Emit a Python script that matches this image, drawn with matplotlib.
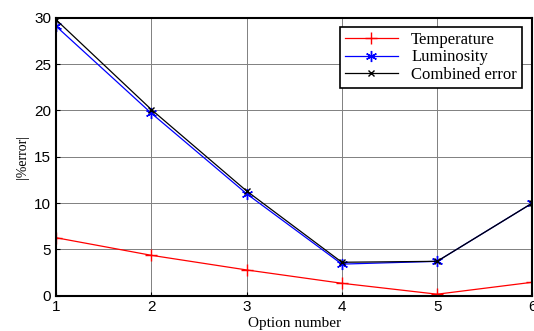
import matplotlib
matplotlib.use("Agg")
from matplotlib import pyplot as plt

options = [1, 2, 3, 4, 5, 6]
temperature = [6.25, 4.35, 2.77, 1.33, 0.15, 1.44]
luminosity = [29.1, 19.7, 11.0, 3.4, 3.7, 10.0]
combined = [29.8, 20.1, 11.3, 3.6, 3.7, 10.0]

fig = plt.figure(figsize=(5.34, 3.31), dpi=100)
ax = fig.add_axes([0.105, 0.107, 0.892, 0.839])

ax.plot(options, temperature, color='red', marker='+', markersize=8, lw=0.9, label='Temperature')
ax.plot(options, luminosity, color='blue', marker=(6, 2, 0), markersize=8, lw=0.9, label='Luminosity')
ax.plot(options, combined, color='black', marker='x', markersize=4, lw=0.9, label='Combined error')

ax.set_xlim(1, 6)
ax.set_ylim(0, 30)
ax.set_xticks(options)
ax.set_yticks([0, 5, 10, 15, 20, 25, 30])
ax.grid(True, color='#808080', lw=0.7)
ax.tick_params(direction='in', labelsize=11, length=3)
for lab in ax.get_xticklabels() + ax.get_yticklabels():
    lab.set_family('Liberation Sans')
for s in ax.spines.values():
    s.set_linewidth(1.5)

ax.set_xlabel('Option number', family='Liberation Serif', fontsize=11, labelpad=2)
ax.set_ylabel('|%error|', family='Liberation Serif', fontsize=10, labelpad=4)

leg = ax.legend(loc='upper right', bbox_to_anchor=(0.985, 0.98), prop={'family': 'Liberation Serif', 'size': 12},
                fancybox=False, edgecolor='black', framealpha=1, handlelength=3.2,
                borderpad=0.3, labelspacing=0.1, borderaxespad=0.2)
leg.get_frame().set_linewidth(1.2)

fig.savefig('out.png', dpi=100)
